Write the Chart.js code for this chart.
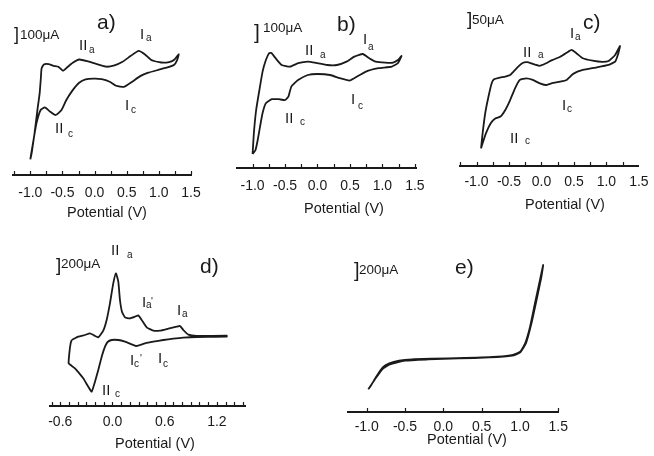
<!DOCTYPE html>
<html>
<head>
<meta charset="utf-8">
<script src="https://cdn.jsdelivr.net/npm/chart.js@4.4.0/dist/chart.umd.min.js"></script>
<style>
  body { margin: 0; background: #fff; }
  #fig { position: relative; width: 654px; height: 456px; overflow: hidden;
         font-family: "Liberation Sans", Arial, sans-serif; color: #1a1a1a; }
  #fig canvas { position: absolute; }
  .t { position: absolute; white-space: nowrap; line-height: 1; }
</style>
</head>
<body>
<div id="fig"></div>
<script>
// potential in V, current in uA (zero arbitrary)
const aPotential = [-1.00,-0.98,-0.935,-0.89,-0.855,-0.835,-0.825,-0.79,-0.715,-0.64,-0.565,-0.49,-0.415,-0.34,-0.24,-0.115,0.035,0.185,0.31,0.435,0.56,0.685,0.785,0.885,1.035,1.16,1.245,1.31,
  1.285,1.235,1.135,0.985,0.835,0.71,0.585,0.46,0.335,0.235,0.11,-0.015,-0.14,-0.24,-0.34,-0.44,-0.515,-0.605,-0.69,-0.775,-0.84,-0.905,-0.955,-0.99,-1.00];
const aCurrent = [4,44,178,333,444,555,611,637,639,628,622,595,622,648,670,659,639,622,631,655,693,728,704,666,650,653,670,706,
  666,633,617,600,582,559,522,488,495,522,539,542,537,515,466,400,333,300,322,351,333,244,122,33,4];

const bPotential = [-1.00,-0.98,-0.945,-0.895,-0.846,-0.795,-0.746,-0.709,-0.646,-0.552,-0.422,-0.299,-0.149,0.0,0.149,0.299,0.448,0.567,0.697,0.796,0.896,1.045,1.164,1.239,1.294,
  1.239,1.145,0.94,0.746,0.567,0.493,0.343,0.194,0.0,-0.149,-0.299,-0.403,-0.448,-0.497,-0.597,-0.701,-0.796,-0.846,-0.885,-0.921,-0.955,-1.00];
const bCurrent = [55,160,275,375,467,525,559,560,534,500,492,509,517,509,500,500,517,542,555,534,517,512,512,525,545,
  509,492,484,467,434,422,434,450,455,450,425,392,342,325,329,329,309,260,192,125,75,55];

const cPotential = [-0.93,-0.906,-0.866,-0.816,-0.766,-0.731,-0.657,-0.557,-0.482,-0.433,-0.358,-0.284,-0.219,-0.134,-0.034,0.04,0.164,0.288,0.413,0.463,0.537,0.637,0.787,0.936,1.034,1.134,1.209,
  1.184,1.134,1.034,0.836,0.637,0.488,0.388,0.288,0.164,0.064,-0.034,-0.134,-0.234,-0.333,-0.407,-0.482,-0.557,-0.631,-0.706,-0.781,-0.855,-0.906,-0.93];
const cCurrent = [53,103,170,225,270,283,288,292,297,308,325,338,340,334,328,333,347,358,375,381,370,353,345,341,344,364,394,
  370,342,331,322,314,301,281,275,270,264,270,281,286,281,253,214,181,159,153,137,103,70,53];

const dPotential = [-0.469,-0.393,-0.316,-0.259,-0.213,-0.163,-0.106,-0.067,-0.029,0.009,0.040,0.067,0.086,0.109,0.144,0.201,0.259,0.297,0.336,0.393,0.469,0.546,0.642,0.738,0.776,0.814,0.872,0.968,1.313,
  1.313,0.968,0.814,0.699,0.584,0.469,0.374,0.316,0.270,0.220,0.144,0.067,-0.009,-0.056,-0.086,-0.124,-0.163,-0.201,-0.239,-0.278,-0.336,-0.381,-0.431,-0.481,-0.504,-0.496,-0.481,-0.469];
const dCurrent = [-48,-8,12,32,8,-16,64,192,392,632,752,652,432,292,224,212,232,248,192,104,64,64,88,112,120,72,16,0,4,
  -8,-12,-20,-32,-48,-68,-88,-108,-120,-100,-68,-48,-48,-72,-128,-248,-408,-548,-668,-608,-508,-448,-388,-348,-328,-208,-88,-48];

const ePotential = [-0.98,-0.94,-0.876,-0.791,-0.705,-0.577,-0.406,-0.15,0.278,0.705,0.919,1.004,1.068,1.132,1.196,1.252,1.303,
  1.28,1.22,1.15,1.08,1.0,0.9,0.6,0.2,-0.2,-0.5,-0.7,-0.8,-0.9,-0.98];
const eCurrent = [-378,-327,-229,-118,-71,-40,-24,-17,-8,7,31,66,165,361,637,873,1089,
  950,690,400,170,55,20,-2,-14,-26,-40,-85,-145,-270,-378];

const wideTicks = [-1.0, -0.5, 0.0, 0.5, 1.0, 1.5];
const dTicks = [-0.6, 0.0, 0.6, 1.2];

const fig = document.getElementById("fig");
const ink = "#1a1a1a";
const font = '"Liberation Sans", Arial, sans-serif';

// small ticks pointing up from the axis line
const innerTicks = {
  id: "innerTicks",
  afterDraw(chart, args, opts) {
    const s = chart.scales.x;
    const ctx = chart.ctx;
    ctx.save();
    ctx.strokeStyle = ink;
    ctx.lineWidth = 1.2;
    for (let v = opts.start; v <= s.max + 1e-9; v += opts.step) {
      const x = Math.round(s.getPixelForValue(v)) + 0.5;
      ctx.beginPath();
      ctx.moveTo(x, s.top);
      ctx.lineTo(x, s.top - 3.5);
      ctx.stroke();
    }
    ctx.restore();
  },
};

const panels = [
  { pot: aPotential, cur: aCurrent, left: 0, top: 0, w: 211, h: 174.5, xMin: -1.27, xMax: 1.504, yMin: -97, yMax: 1067, ticks: wideTicks, start: -1.25, step: 0.25, pad: 10.3 },
  { pot: bPotential, cur: bCurrent, left: 224, top: 0, w: 211, h: 167.5, xMin: -1.24, xMax: 1.521, yMin: -12.5, yMax: 825, ticks: wideTicks, start: -1.0, step: 0.25, pad: 10.3 },
  { pot: cPotential, cur: cCurrent, left: 447, top: 0, w: 210, h: 165.5, xMin: -1.254, xMax: 1.492, yMin: -4, yMax: 547, ticks: wideTicks, start: -1.25, step: 0.25, pad: 8.4 },
  { pot: dPotential, cur: dCurrent, left: 37, top: 230, w: 221, h: 175.5, xMin: -0.718, xMax: 1.523, yMin: -834, yMax: 1272, ticks: dTicks, start: -0.7, step: 0.1, pad: 8.7 },
  { pot: ePotential, cur: eCurrent, left: 335, top: 230, w: 240, h: 181.5, xMin: -1.244, xMax: 1.50, yMin: -640, yMax: 1502, ticks: wideTicks, start: -1.0, step: 0.5, pad: 7 },
];

panels.forEach((p) => {
  const cv = document.createElement("canvas");
  cv.width = p.w;
  cv.height = Math.round(p.h + 30);
  cv.style.left = p.left + "px";
  cv.style.top = p.top + "px";
  fig.appendChild(cv);
  const tickValues = p.ticks;
  new Chart(cv.getContext("2d"), {
    type: "scatter",
    data: {
      datasets: [{
        data: p.pot.map((v, i) => ({ x: v, y: p.cur[i] })),
        showLine: true,
        borderColor: ink,
        borderWidth: 1.8,
        pointRadius: 0,
        tension: 0.15,
      }],
    },
    options: {
      responsive: false,
      animation: false,
      layout: { padding: { left: 13, right: 13, top: 0, bottom: cv.height - p.h - 30 } },
      plugins: { legend: { display: false }, tooltip: { enabled: false }, innerTicks: { start: p.start, step: p.step } },
      scales: {
        x: {
          type: "linear",
          min: p.xMin,
          max: p.xMax,
          afterBuildTicks: (s) => { s.ticks = tickValues.map((v) => ({ value: v })); },
          afterFit: (s) => { s.height = 30; },
          ticks: { font: { family: font, size: 14 }, color: ink, padding: p.pad, maxRotation: 0, autoSkip: false,
                   callback: (v) => Number(v).toFixed(1) },
          grid: { display: false, drawTicks: false },
          border: { display: true, color: ink, width: 2 },
        },
        y: { display: false, min: p.yMin, max: p.yMax },
      },
    },
    plugins: [innerTicks],
  });
});

// text placed by baseline
function addText(txt, x, base, size) {
  const d = document.createElement("div");
  d.className = "t";
  d.textContent = txt;
  d.style.left = x + "px";
  d.style.top = (base - 0.8465 * size) + "px";
  d.style.fontSize = size + "px";
  fig.appendChild(d);
  return d;
}

const titles = [[107, 217], [344, 213], [565, 209], [155, 448], [467, 444]];
titles.forEach(([cx, base]) => {
  const d = addText("Potential (V)", cx - 70, base, 14.5);
  d.style.width = "140px";
  d.style.textAlign = "center";
});

// scale bars
[[14, 40, 18, 20, 39, "100μA"], [254, 39, 21, 263, 32, "100μA"], [467, 25, 19, 472, 24, "50μA"],
 [56, 271, 19, 61, 268, "200μA"], [354, 277, 20, 359, 274, "200μA"]].forEach(([bx, bb, bs, tx, tb, txt]) => {
  addText("]", bx, bb, bs);
  addText(txt, tx, tb, 13.5);
});

// panel letters
[["a)", 97, 29], ["b)", 337, 31], ["c)", 583, 29], ["d)", 200, 273], ["e)", 455, 274]].forEach(([t, x, b]) => addText(t, x, b, 21));

// peak labels: [main, x, base, sub, sx, sbase]
const peaks = [
  ["II", 79, 50, "a", 89, 53], ["I", 140, 39, "a", 146, 41], ["I", 125, 110, "c", 131, 113], ["II", 55, 133, "c", 68, 137],
  ["II", 305, 55, "a", 320, 58], ["I", 363, 44, "a", 368, 50], ["I", 351, 104, "c", 358, 109], ["II", 285, 123, "c", 300, 125],
  ["I", 570, 38, "a", 575, 40], ["II", 523, 57, "a", 538, 58], ["I", 562, 110, "c", 567, 112], ["II", 510, 143, "c", 525, 144],
  ["II", 111, 255, "a", 127, 258], ["I", 142, 307, "a", 146, 308], ["I", 177, 315, "a", 182, 317],
  ["I", 130, 365, "c", 134, 367], ["I", 158, 363, "c", 163, 367], ["II", 102, 395, "c", 115, 397],
];
peaks.forEach(([m, x, b, s, sx, sb]) => {
  addText(m, x, b, 15);
  addText(s, sx, sb, 10);
});
addText("'", 151, 305, 10);
addText("'", 140, 362, 10);
</script>
</body>
</html>
